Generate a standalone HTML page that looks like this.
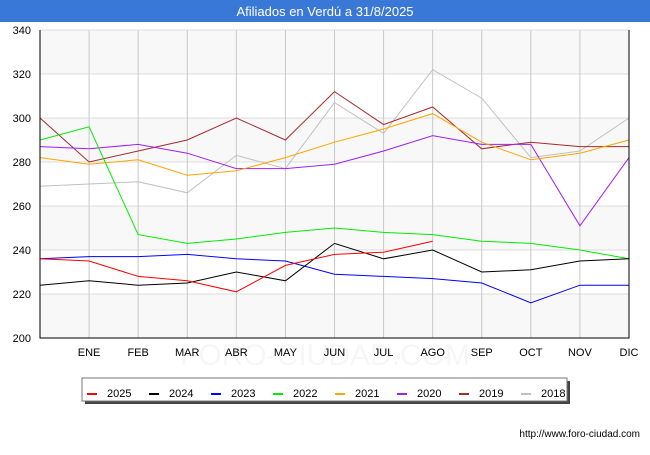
<!DOCTYPE html>
<html><head><meta charset="utf-8"><style>
body{margin:0;background:#fff;font-family:"Liberation Sans","DejaVu Sans",sans-serif}
</style></head><body>
<svg width="650" height="450" xmlns="http://www.w3.org/2000/svg">
<rect x="0" y="0" width="650" height="22" fill="#3a78d8"/>
<text x="325" y="16" text-anchor="middle" fill="#fff" font-size="13">Afiliados en Verdú a 31/8/2025</text>
<g id="grid"></g>
<g id="series"></g>
<g id="axes"></g>
<text x="325" y="365" text-anchor="middle" font-size="30" fill="#000" opacity="0.03">FORO-CIUDAD.COM</text>
<rect x="85" y="381" width="485" height="23" fill="#444"/>
<rect x="82" y="378" width="485" height="23" fill="#fff" stroke="#777"/>
<g id="legend"></g>
<text x="640" y="437" text-anchor="end" font-size="10" fill="#000">http://www.foro-ciudad.com</text>
</svg>
<script>
const categories=["","ENE","FEB","MAR","ABR","MAY","JUN","JUL","AGO","SEP","OCT","NOV","DIC"];
const yTicks=[200,220,240,260,280,300,320,340];
const seriesNames=["2025","2024","2023","2022","2021","2020","2019","2018"];
const seriesColors=["#ff0000","#000000","#0000ff","#00ee00","#ffa500","#a020f0","#a52a2a","#c0c0c0"];
const s2025=[236,235,228,226,221,233,238,239,244];
const s2024=[224,226,224,225,230,226,243,236,240,230,231,235,236];
const s2023=[236,237,237,238,236,235,229,228,227,225,216,224,224];
const s2022=[290,296,247,243,245,248,250,248,247,244,243,240,236];
const s2021=[282,279,281,274,276,282,289,295,302,289,281,284,290];
const s2020=[287,286,288,284,277,277,279,285,292,288,288,251,282];
const s2019=[300,280,285,290,300,290,312,297,305,286,289,287,287];
const s2018=[269,270,271,266,283,277,307,293,322,309,282,285,300];
const allSeries=[s2025,s2024,s2023,s2022,s2021,s2020,s2019,s2018];
const NS="http://www.w3.org/2000/svg";
const X0=40,X1=629,Y0=338,Y1=30,VMIN=200,VMAX=340;
const xs=i=>X0+(X1-X0)*i/(categories.length-1);
const ys=v=>Y0-(v-VMIN)*(Y0-Y1)/(VMAX-VMIN);
function mk(tag,attrs,parent){const e=document.createElementNS(NS,tag);for(const k in attrs)e.setAttribute(k,attrs[k]);parent.appendChild(e);return e;}
const grid=document.getElementById('grid'),axes=document.getElementById('axes'),ser=document.getElementById('series'),leg=document.getElementById('legend');
for(let i=0;i<yTicks.length-1;i++){
  const r=mk('rect',{x:X0,y:ys(yTicks[i+1]),width:X1-X0,height:ys(yTicks[i])-ys(yTicks[i+1]),fill:i%2===0?'#f8f8f8':'#ffffff'},grid);
  
  
}
yTicks.forEach(v=>{
  const l=mk('line',{x1:X0,x2:X1,y1:ys(v),y2:ys(v),stroke:'#dddddd'},grid);
  
  
  const t=mk('text',{x:X0-9,y:ys(v)+4,'text-anchor':'end','font-size':11,fill:'#000'},axes);
  t.textContent=v;
  
  
});
categories.forEach((c,i)=>{
  if(i>0){const l=mk('line',{x1:xs(i),x2:xs(i),y1:Y1,y2:Y0,stroke:'#c8c8c8'},grid);
  
  }
  const t=mk('text',{x:xs(i),y:356,'text-anchor':'middle','font-size':11,fill:'#000'},axes);
  t.textContent=c;
  
  
});
const ax=mk('polyline',{points:`${X0},${Y1} ${X0},${Y0} ${X1},${Y0} ${X1},${Y1}`,fill:'none',stroke:'#000','stroke-width':1},axes);


for(let s=allSeries.length-1;s>=0;s--){
  const pts=allSeries[s].map((v,i)=>xs(i)+','+ys(v)).join(' ');
  const p=mk('polyline',{points:pts,fill:'none',stroke:seriesColors[s],'stroke-width':1},ser);
  
  
}
seriesNames.forEach((n,i)=>{
  const x=87+i*62;
  const l=mk('line',{x1:x,x2:x+10,y1:394,y2:394,stroke:seriesColors[i],'stroke-width':2},leg);
  
  
  const t=mk('text',{x:x+20,y:397,'font-size':11,fill:'#000'},leg);
  t.textContent=n;
  
  
});
</script>
</body></html>
